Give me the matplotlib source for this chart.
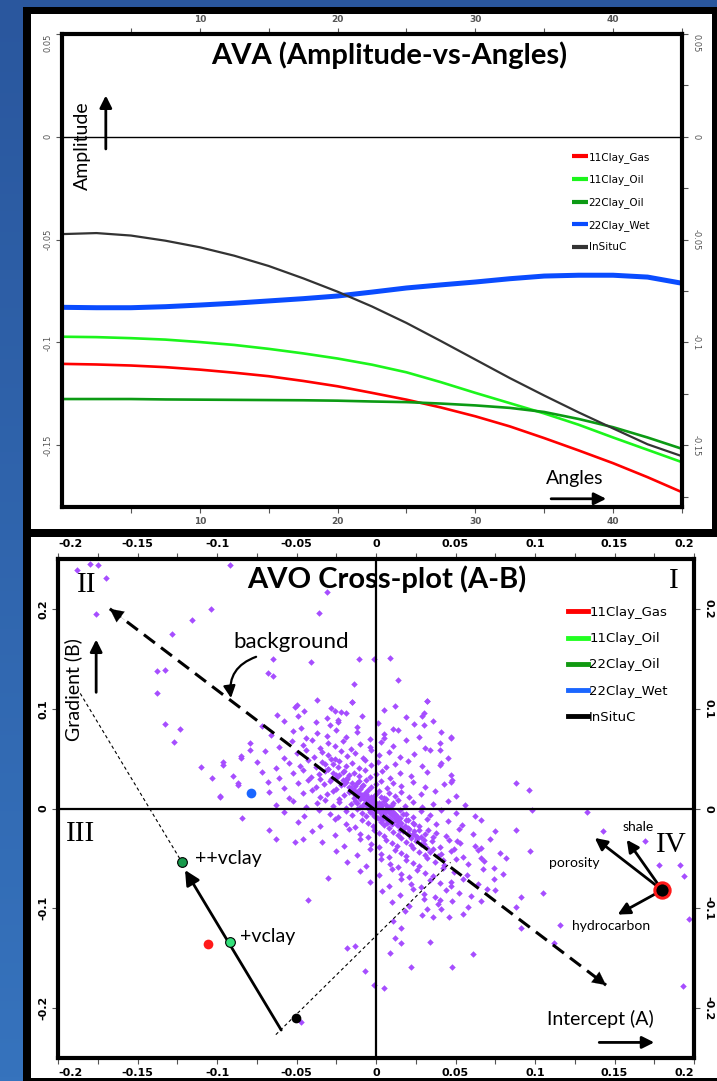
import numpy as np
import matplotlib
matplotlib.use('Agg')
import matplotlib.pyplot as plt
from matplotlib.patches import Rectangle
from matplotlib.lines import Line2D
from matplotlib.ticker import FixedLocator
from matplotlib.colors import LinearSegmentedColormap

W, H = 717, 1081

# ---- AVA curves (amplitude vs incidence angle) ----
angles = [0, 2.5, 5, 7.5, 10, 12.5, 15, 17.5, 20, 22.5, 25, 27.5, 30, 32.5, 35, 37.5, 40, 42.5, 45]
gas_11 = [-0.1104, -0.1107, -0.1112, -0.1120, -0.1132, -0.1147, -0.1164, -0.1187, -0.1213, -0.1245,
          -0.1278, -0.1316, -0.1359, -0.1408, -0.1465, -0.1525, -0.1587, -0.1655, -0.1728]
oil_11 = [-0.0972, -0.0974, -0.0979, -0.0986, -0.0998, -0.1012, -0.1031, -0.1053, -0.1078, -0.1108,
          -0.1145, -0.1193, -0.1245, -0.1295, -0.1345, -0.1400, -0.1462, -0.1522, -0.1582]
oil_22 = [-0.1275, -0.1275, -0.1275, -0.1277, -0.1278, -0.1279, -0.1280, -0.1281, -0.1283, -0.1287,
          -0.1290, -0.1297, -0.1306, -0.1318, -0.1338, -0.1372, -0.1412, -0.1462, -0.1517]
wet_22 = [-0.0829, -0.0831, -0.0831, -0.0826, -0.0818, -0.0809, -0.0798, -0.0787, -0.0774, -0.0755,
          -0.0735, -0.0720, -0.0706, -0.0690, -0.0677, -0.0673, -0.0673, -0.0682, -0.0712]
insitu = [-0.0473, -0.0468, -0.0480, -0.0505, -0.0537, -0.0578, -0.0628, -0.0688, -0.0753, -0.0825,
          -0.0905, -0.0993, -0.1083, -0.1173, -0.1258, -0.1340, -0.1418, -0.1495, -0.1553]

series_names = ['11Clay_Gas', '11Clay_Oil', '22Clay_Oil', '22Clay_Wet', 'InSituC']
series_colors = ['#ff0000', '#1cf51c', '#0c9a14', '#0a4cff', '#333333']
series_widths = [1.9, 1.9, 1.9, 3.6, 1.6]

ava_xticks = [10, 20, 30, 40]
ava_yticks = [0.05, 0, -0.05, -0.1, -0.15]
ava_ylabels = ['0.05', '0', '-0.05', '-0.1', '-0.15']

# ---- AVO cross-plot: intercept A vs gradient B ----
# sparse points away from the main cloud
outlier_a = [-0.188, -0.180, -0.175, -0.170, -0.092, -0.031, -0.104, -0.116, -0.176, -0.036,
             -0.128, -0.065, -0.138, -0.133, -0.138, -0.068, -0.065, -0.041, -0.011, -0.001,
             0.009, 0.014, -0.014, -0.015, 0.032, 0.029, -0.133, -0.123, -0.127, -0.079,
             -0.085, -0.096, -0.110, -0.103, -0.087, -0.098, -0.084, -0.067, -0.063, -0.046,
             -0.051, -0.043, -0.030, -0.018, -0.013, -0.007, -0.001, 0.005, 0.009, 0.012,
             0.016, 0.022, 0.034, 0.048, 0.061, 0.088, 0.096, 0.098, 0.133, 0.143,
             0.169, 0.178, 0.191, 0.194, 0.197, 0.193, 0.116, 0.112, 0.091, 0.088,
             0.097, 0.105, 0.091, 0.088, 0.074, 0.082, 0.066, 0.066, 0.074, 0.075,
             0.051, 0.049, 0.047, 0.040, 0.046, 0.036, 0.032, 0.016, 0.011, 0.047,
             0.040, 0.040, 0.047, 0.030, 0.005, -0.019, -0.026, -0.024, -0.051, -0.049,
             0.066, -0.047]
outlier_b = [0.239, 0.245, 0.244, 0.231, 0.244, 0.217, 0.200, 0.189, 0.195, 0.196,
             0.175, 0.150, 0.138, 0.139, 0.116, 0.136, 0.133, 0.147, 0.150, 0.150,
             0.151, 0.129, 0.125, 0.107, 0.108, 0.093, 0.085, 0.080, 0.067, 0.059,
             0.051, 0.047, 0.042, 0.031, 0.026, 0.012, -0.010, -0.022, -0.031, -0.031,
             -0.034, -0.092, -0.070, -0.140, -0.138, -0.163, -0.177, -0.180, -0.145, -0.130,
             -0.135, -0.159, -0.134, -0.159, -0.146, 0.026, 0.019, -0.002, -0.004, -0.023,
             -0.033, -0.057, -0.057, -0.068, -0.111, -0.178, -0.117, -0.135, -0.120, -0.022,
             -0.043, -0.085, -0.089, -0.099, -0.060, -0.050, -0.040, -0.050, -0.071, -0.082,
             -0.033, -0.041, -0.074, -0.092, -0.109, -0.109, -0.101, -0.120, -0.113, 0.072,
             0.059, 0.044, 0.027, 0.084, 0.071, 0.096, 0.098, 0.087, 0.102, 0.093,
             -0.093, -0.214]

# dense cloud around the origin, listed band by band (top to bottom)
cloud = [
    (-0.050, 0.104), (-0.037, 0.109), (-0.028, 0.101), (-0.015, 0.107), (0.012, 0.103), (0.032, 0.108),
    (-0.062, 0.094), (-0.045, 0.098), (-0.031, 0.091), (-0.022, 0.097), (-0.009, 0.093), (0.005, 0.099),
    (0.019, 0.092), (0.030, 0.096),
    (-0.072, 0.083), (-0.058, 0.088), (-0.047, 0.081), (-0.038, 0.087), (-0.029, 0.084), (-0.024, 0.089),
    (-0.012, 0.082), (0.001, 0.086), (0.011, 0.080), (0.024, 0.085), (0.036, 0.088),
    (-0.066, 0.074), (-0.052, 0.078), (-0.044, 0.071), (-0.037, 0.076), (-0.031, 0.073), (-0.025, 0.079),
    (-0.019, 0.072), (-0.012, 0.077), (-0.004, 0.070), (0.005, 0.075), (0.014, 0.079), (0.027, 0.072),
    (0.041, 0.077), (0.047, 0.071),
    (-0.079, 0.066), (-0.061, 0.062), (-0.053, 0.068), (-0.046, 0.064), (-0.040, 0.069), (-0.035, 0.061),
    (-0.030, 0.066), (-0.026, 0.063), (-0.021, 0.068), (-0.016, 0.060), (-0.010, 0.065), (-0.004, 0.062),
    (0.003, 0.067), (0.011, 0.063), (0.019, 0.069), (0.031, 0.061), (0.040, 0.066),
    (-0.085, 0.053), (-0.070, 0.058), (-0.058, 0.051), (-0.050, 0.056), (-0.044, 0.059), (-0.039, 0.052),
    (-0.034, 0.057), (-0.030, 0.054), (-0.026, 0.050), (-0.022, 0.058), (-0.018, 0.053), (-0.013, 0.056),
    (-0.008, 0.051), (-0.003, 0.059), (0.002, 0.054), (0.008, 0.057), (0.015, 0.052), (0.024, 0.055),
    (0.034, 0.059), (0.045, 0.051),
    (-0.096, 0.044), (-0.075, 0.047), (-0.063, 0.041), (-0.055, 0.046), (-0.048, 0.043), (-0.043, 0.049),
    (-0.038, 0.042), (-0.034, 0.047), (-0.030, 0.040), (-0.027, 0.045), (-0.023, 0.048), (-0.019, 0.043),
    (-0.015, 0.046), (-0.011, 0.041), (-0.007, 0.049), (-0.003, 0.044), (0.001, 0.047), (0.006, 0.042),
    (0.012, 0.045), (0.020, 0.048), (0.029, 0.043), (0.041, 0.046),
    (-0.090, 0.033), (-0.072, 0.037), (-0.061, 0.031), (-0.052, 0.036), (-0.046, 0.039), (-0.041, 0.032),
    (-0.036, 0.035), (-0.032, 0.038), (-0.028, 0.030), (-0.025, 0.034), (-0.021, 0.037), (-0.018, 0.031),
    (-0.014, 0.036), (-0.011, 0.033), (-0.007, 0.039), (-0.004, 0.032), (0.000, 0.035), (0.004, 0.038),
    (0.009, 0.031), (0.015, 0.036), (0.022, 0.033), (0.032, 0.037), (0.047, 0.034),
    (-0.087, 0.024), (-0.068, 0.027), (-0.058, 0.021), (-0.049, 0.026), (-0.043, 0.029), (-0.038, 0.022),
    (-0.033, 0.025), (-0.029, 0.028), (-0.025, 0.020), (-0.022, 0.024), (-0.019, 0.027), (-0.016, 0.021),
    (-0.012, 0.026), (-0.009, 0.023), (-0.006, 0.029), (-0.003, 0.022), (0.000, 0.025), (0.003, 0.028),
    (0.007, 0.021), (0.011, 0.026), (0.016, 0.023), (0.023, 0.027), (0.031, 0.022), (0.043, 0.025),
    (0.048, 0.029),
    (-0.098, 0.013), (-0.067, 0.017), (-0.055, 0.011), (-0.046, 0.016), (-0.040, 0.019), (-0.035, 0.012),
    (-0.031, 0.015), (-0.027, 0.018), (-0.023, 0.010), (-0.020, 0.014), (-0.017, 0.017), (-0.014, 0.011),
    (-0.011, 0.016), (-0.008, 0.013), (-0.005, 0.019), (-0.003, 0.012), (0.000, 0.015), (0.002, 0.018),
    (0.005, 0.011), (0.008, 0.016), (0.012, 0.013), (0.016, 0.017), (0.021, 0.012), (0.028, 0.015),
    (0.037, 0.018), (0.050, 0.013),
    (-0.063, 0.004), (-0.052, 0.008), (-0.044, 0.002), (-0.037, 0.006), (-0.032, 0.009), (-0.027, 0.003),
    (-0.023, 0.007), (-0.019, 0.001), (-0.016, 0.005), (-0.013, 0.008), (-0.010, 0.002), (-0.007, 0.006),
    (-0.005, 0.009), (-0.003, 0.003), (-0.001, 0.007), (0.001, 0.001), (0.003, 0.005), (0.005, 0.008),
    (0.008, 0.002), (0.011, 0.006), (0.014, 0.009), (0.018, 0.003), (0.023, 0.007), (0.029, 0.002),
    (0.036, 0.005), (0.045, 0.008), (0.056, 0.004),
    (-0.058, -0.004), (-0.045, -0.008), (-0.036, -0.002), (-0.029, -0.006), (-0.024, -0.009), (-0.019, -0.003),
    (-0.015, -0.007), (-0.012, -0.001), (-0.009, -0.005), (-0.006, -0.008), (-0.004, -0.002), (-0.002, -0.006),
    (0.000, -0.009), (0.002, -0.003), (0.004, -0.007), (0.006, -0.001), (0.009, -0.005), (0.012, -0.008),
    (0.015, -0.002), (0.019, -0.006), (0.023, -0.009), (0.028, -0.003), (0.034, -0.007), (0.041, -0.002),
    (0.050, -0.005), (0.062, -0.008),
    (-0.049, -0.014), (-0.035, -0.018), (-0.026, -0.011), (-0.019, -0.016), (-0.013, -0.019), (-0.009, -0.012),
    (-0.005, -0.015), (-0.002, -0.018), (0.001, -0.010), (0.003, -0.014), (0.005, -0.017), (0.008, -0.011),
    (0.010, -0.016), (0.013, -0.013), (0.016, -0.019), (0.019, -0.012), (0.023, -0.015), (0.027, -0.018),
    (0.032, -0.011), (0.038, -0.016), (0.045, -0.013), (0.054, -0.017), (0.066, -0.012),
    (-0.040, -0.023), (-0.026, -0.027), (-0.017, -0.021), (-0.010, -0.026), (-0.005, -0.029), (-0.001, -0.022),
    (0.002, -0.025), (0.005, -0.028), (0.008, -0.020), (0.011, -0.024), (0.014, -0.027), (0.017, -0.021),
    (0.020, -0.026), (0.024, -0.023), (0.028, -0.029), (0.033, -0.022), (0.038, -0.025), (0.044, -0.028),
    (0.052, -0.021), (0.061, -0.026), (0.075, -0.023),
    (-0.034, -0.034), (-0.020, -0.038), (-0.010, -0.031), (-0.003, -0.036), (0.002, -0.039), (0.006, -0.032),
    (0.010, -0.035), (0.013, -0.038), (0.016, -0.030), (0.019, -0.034), (0.022, -0.037), (0.026, -0.031),
    (0.030, -0.036), (0.035, -0.033), (0.040, -0.039), (0.046, -0.032), (0.053, -0.035), (0.062, -0.038),
    (0.072, -0.031),
    (-0.025, -0.043), (-0.012, -0.047), (-0.004, -0.041), (0.003, -0.046), (0.008, -0.049), (0.012, -0.042),
    (0.016, -0.045), (0.019, -0.048), (0.023, -0.040), (0.027, -0.044), (0.031, -0.047), (0.036, -0.041),
    (0.041, -0.046), (0.047, -0.043), (0.055, -0.049), (0.064, -0.042), (0.078, -0.045),
    (-0.018, -0.054), (-0.006, -0.058), (0.003, -0.051), (0.009, -0.056), (0.014, -0.059), (0.019, -0.052),
    (0.023, -0.055), (0.027, -0.058), (0.032, -0.050), (0.037, -0.054), (0.043, -0.057), (0.050, -0.051),
    (0.058, -0.056), (0.068, -0.053),
    (-0.010, -0.063), (0.002, -0.067), (0.010, -0.061), (0.016, -0.066), (0.021, -0.069), (0.026, -0.062),
    (0.031, -0.065), (0.036, -0.068), (0.042, -0.060), (0.049, -0.064), (0.057, -0.067), (0.067, -0.061),
    (0.080, -0.066),
    (-0.004, -0.074), (0.008, -0.078), (0.016, -0.071), (0.022, -0.076), (0.028, -0.079), (0.034, -0.072),
    (0.040, -0.075), (0.047, -0.078), (0.055, -0.071), (0.064, -0.076),
    (0.004, -0.083), (0.015, -0.087), (0.023, -0.081), (0.030, -0.086), (0.037, -0.089), (0.044, -0.082),
    (0.052, -0.085), (0.060, -0.088), (0.070, -0.081),
    (0.010, -0.094), (0.021, -0.098), (0.030, -0.091), (0.039, -0.096), (0.048, -0.093), (0.058, -0.099),
    (0.018, -0.103), (0.029, -0.107), (0.041, -0.101), (0.055, -0.106),
    (-0.006, 0.004), (0.004, -0.004), (-0.002, 0.010), (0.007, -0.012), (-0.011, 0.013), (0.012, -0.006),
    (0.000, 0.000), (-0.004, -0.002), (0.003, 0.003), (0.020, -0.020), (0.025, -0.028), (0.015, -0.022),
]
# tight core along the trend through the origin
core = [
    (-0.030, 0.040), (-0.027, 0.036), (-0.025, 0.031), (-0.023, 0.034), (-0.021, 0.029), (-0.020, 0.025),
    (-0.018, 0.030), (-0.017, 0.022), (-0.015, 0.026), (-0.014, 0.019), (-0.013, 0.023), (-0.012, 0.017),
    (-0.010, 0.020), (-0.009, 0.014), (-0.008, 0.011), (-0.007, 0.016), (-0.006, 0.009), (-0.005, 0.012),
    (-0.004, 0.006), (-0.003, 0.008), (-0.002, 0.002), (-0.001, 0.004), (0.000, -0.003), (0.001, 0.002),
    (0.002, -0.001), (0.003, -0.005), (0.004, 0.000), (0.005, -0.006), (0.006, -0.003), (0.007, -0.009),
    (0.008, -0.004), (0.009, -0.011), (0.010, -0.007), (0.011, -0.014), (0.012, -0.010), (0.013, -0.017),
    (0.014, -0.012), (0.015, -0.019), (0.016, -0.015), (0.017, -0.023), (0.018, -0.018), (0.020, -0.025),
    (0.021, -0.021), (0.022, -0.030), (0.023, -0.026), (0.025, -0.033), (0.026, -0.029), (0.028, -0.036),
    (0.030, -0.032), (0.032, -0.040),
    (-0.004, -0.004), (0.002, 0.006), (-0.008, 0.004), (0.006, 0.004), (-0.001, -0.008), (0.004, -0.012),
    (-0.010, 0.010), (0.009, -0.001), (-0.006, 0.015), (0.011, -0.004), (-0.002, 0.012), (0.003, -0.010),
    (-0.012, 0.006), (0.013, -0.008), (0.000, 0.006), (-0.005, 0.001), (0.007, -0.015), (-0.013, 0.014),
    (0.015, -0.010), (-0.016, 0.018),
    (-0.035, 0.030), (-0.032, 0.045), (-0.028, 0.050), (-0.024, 0.042), (-0.020, 0.038), (-0.017, 0.034),
    (-0.011, 0.028), (-0.008, 0.024), (0.003, 0.012), (0.006, 0.010), (0.010, 0.004), (0.017, -0.006),
    (0.020, -0.012), (0.024, -0.016), (0.027, -0.022), (0.031, -0.026), (0.034, -0.044), (0.036, -0.029),
    (0.039, -0.048), (0.042, -0.052),
]
cloud_a = [p[0] for p in cloud + core]
cloud_b = [p[1] for p in cloud + core]

# single-sample positions for each fluid case
fluid_a = [-0.1056, -0.0920, -0.1220, -0.0788, -0.0506]
fluid_b = [-0.1360, -0.1340, -0.0540, 0.0152, -0.2100]
fluid_colors = ['#ff1a1a', '#33e07a', '#17994a', '#1a66ff', '#000000']
fluid_edges = ['none', '#000000', '#000000', 'none', 'none']

# hydrocarbon reference point and its trend directions
hc_a, hc_b = 0.180, -0.0818
trend_names = ['porosity', 'shale', 'hydrocarbon']
trend_tip_a = [0.1376, 0.1577, 0.1520]
trend_tip_b = [-0.0295, -0.0313, -0.1063]

avo_xticks = [-0.2, -0.15, -0.1, -0.05, 0, 0.05, 0.1, 0.15, 0.2]
avo_xlabels = ['-0.2', '-0.15', '-0.1', '-0.05', '0', '0.05', '0.1', '0.15', '0.2']
avo_yticks = [0.2, 0.1, 0, -0.1, -0.2]
avo_ylabels = ['0.2', '0.1', '0', '-0.1', '-0.2']

CAL = ['Lato', 'DejaVu Sans']
TAH = ['DejaVu Sans']


def fx(x):
    return x / W


def fy(y):
    return 1 - y / H


def px_rect(x0, y0, x1, y1, color, z):
    fig.add_artist(Rectangle((fx(x0), fy(y1)), (x1 - x0) / W, (y1 - y0) / H,
                             transform=fig.transFigure, facecolor=color,
                             edgecolor='none', zorder=z))


def arrow(ax, tail, tip, lw=2.0, scale=18, **kw):
    ax.annotate('', xy=tip, xytext=tail,
                arrowprops=dict(arrowstyle='-|>', color='black', lw=lw,
                                mutation_scale=scale, shrinkA=0, shrinkB=0, **kw))


fig = plt.figure(figsize=(W / 100, H / 100), dpi=100)

# blue slide background
bg = fig.add_axes([0, 0, 1, 1], zorder=-10)
grad = np.linspace(0, 1, 256).reshape(-1, 1)
bg.imshow(grad, aspect='auto', extent=[0, 1, 0, 1], origin='upper',
          cmap=LinearSegmentedColormap.from_list('slide', ['#2a579e', '#3673bd']))
bg.axis('off')

# black frames with white panels
px_rect(23, 7, 717, 537, 'black', -5)
px_rect(23, 529, 717, 1081, 'black', -5)
px_rect(31, 14, 712, 529, 'white', -4)
px_rect(31, 537, 717, 1078, 'white', -4)

# ================= AVA panel =================
ax1 = fig.add_axes([fx(62), fy(507), 620 / W, 473 / H])
for name, vals, c, lw in zip(series_names, [gas_11, oil_11, oil_22, wet_22, insitu],
                             series_colors, series_widths):
    ax1.plot(angles, vals, color=c, lw=lw, label=name, solid_capstyle='butt')
ax1.axhline(0, color='black', lw=1.0)
ax1.set_xlim(0, 45)
ax1.set_ylim(-0.18, 0.05)
ax1.xaxis.set_major_locator(FixedLocator(ava_xticks))
ax1.xaxis.set_minor_locator(FixedLocator([5, 15, 25, 35, 45]))
ax1.set_yticks(ava_yticks)
ax1.set_yticklabels(ava_ylabels)
ax1.yaxis.set_minor_locator(FixedLocator([0.025, -0.025, -0.075, -0.125, -0.175]))
ax1.tick_params(which='both', direction='out', length=4, width=0.8, color='#555555',
                top=True, right=True, labeltop=True, labelright=True, pad=3)
ax1.tick_params(axis='y', which='minor', left=False, right=True)
for t in ax1.xaxis.get_major_ticks():
    for lbl in (t.label1, t.label2):
        lbl.set_fontsize(6.5)
        lbl.set_color('#555555')
        lbl.set_fontweight('bold')
for i, t in enumerate(ax1.yaxis.get_major_ticks()):
    t.label1.set_rotation(90)
    t.label2.set_rotation(-90)
    for lbl in (t.label1, t.label2):
        lbl.set_fontsize(6)
        lbl.set_color('#555555')
        lbl.set_verticalalignment('top' if i == 0 else 'center')
for s in ax1.spines.values():
    s.set_linewidth(3)

fig.text(fx(389), fy(55), 'AVA (Amplitude-vs-Angles)', ha='center', va='center',
         fontsize=21, fontweight='bold', family=CAL)
ax1.text(1.5, -0.0042, 'Amplitude', rotation=90, ha='center', va='center',
         fontsize=14, family=CAL)
arrow(ax1, (3.18, -0.0059), (3.18, 0.0201))
ax1.text(37.2, -0.1663, 'Angles', ha='center', va='center', fontsize=14, family=CAL)
arrow(ax1, (35.5, -0.176), (39.5, -0.176))

leg1 = ax1.legend(loc='upper left', bbox_to_anchor=(fx(572), fy(152)),
                  bbox_transform=fig.transFigure, frameon=False,
                  prop={'family': TAH, 'size': 7.5}, handlelength=1.5,
                  handletextpad=0.1, labelspacing=1.12, borderpad=0, borderaxespad=0)
for ln in leg1.get_lines():
    ln.set_linewidth(3)

# ================= AVO cross-plot panel =================
ax2 = fig.add_axes([fx(58), fy(1058), 636 / W, 499 / H])
ax2.scatter(outlier_a + cloud_a, outlier_b + cloud_b, s=11, marker='D',
            color='#a64dff', linewidths=0, zorder=2)
ax2.axhline(0, color='black', lw=1.6, zorder=3)
ax2.axvline(0, color='black', lw=1.6, zorder=3)
ax2.set_xlim(-0.2, 0.2)
ax2.set_ylim(-0.25, 0.25)
ax2.set_xticks(avo_xticks)
ax2.set_xticklabels(avo_xlabels)
ax2.xaxis.set_minor_locator(FixedLocator([-0.175, -0.125, -0.075, -0.025, 0.025, 0.075, 0.125, 0.175]))
ax2.set_yticks(avo_yticks)
ax2.set_yticklabels(avo_ylabels)
ax2.tick_params(which='both', direction='out', length=4, width=0.8, color='#555555',
                top=True, right=True, labeltop=True, labelright=True, pad=3)
for i, t in enumerate(ax2.xaxis.get_major_ticks()):
    for lbl in (t.label1, t.label2):
        lbl.set_fontsize(8)
        lbl.set_fontweight('bold')
        if i == 0:
            lbl.set_horizontalalignment('left')
        elif i == len(avo_xticks) - 1:
            lbl.set_horizontalalignment('right')
for t in ax2.yaxis.get_major_ticks():
    t.label1.set_rotation(90)
    t.label2.set_rotation(-90)
    for lbl in (t.label1, t.label2):
        lbl.set_fontsize(8)
        lbl.set_fontweight('bold')
        lbl.set_verticalalignment('center')
for s in ax2.spines.values():
    s.set_linewidth(3)

fig.text(fx(387), fy(579), 'AVO Cross-plot (A-B)', ha='center', va='center',
         fontsize=21, fontweight='bold', family=CAL)

# quadrant numerals
for txt, a, b in [('I', 0.1874, 0.228), ('II', -0.1818, 0.224),
                  ('III', -0.1855, -0.0253), ('IV', 0.186, -0.037)]:
    ax2.text(a, b, txt, ha='center', va='center', fontsize=21, family='Liberation Serif')

# background trend (dashed, arrow at both ends)
bgl_a = [-0.1674, 0.1447]
bgl_b = [0.2001, -0.1770]
ax2.plot(bgl_a, bgl_b, color='black', lw=2.2, ls=(0, (4.5, 2.5)), zorder=4)
da, db = bgl_a[1] - bgl_a[0], bgl_b[1] - bgl_b[0]
arrow(ax2, (bgl_a[0] + 0.03 * da, bgl_b[0] + 0.03 * db), (bgl_a[0], bgl_b[0]), lw=0.1, scale=24)
arrow(ax2, (bgl_a[1] - 0.03 * da, bgl_b[1] - 0.03 * db), (bgl_a[1], bgl_b[1]), lw=0.1, scale=24)
ax2.text(-0.0535, 0.1667, 'background', ha='center', va='center', fontsize=16, family=CAL)
arrow(ax2, (-0.0754, 0.152), (-0.0912, 0.1107), lw=1.6, scale=18,
      connectionstyle='arc3,rad=0.4')

# clay trend construction lines
ax2.plot([-0.186, -0.122], [0.1153, -0.054], color='black', lw=0.8, ls=(0, (3, 2.5)), zorder=4)
ax2.plot([-0.063, 0.0469], [-0.2266, -0.054], color='black', lw=0.8, ls=(0, (3, 2.5)), zorder=4)
arrow(ax2, (-0.0596, -0.222), (-0.1201, -0.0617), lw=2.0, scale=22)

for a, b, c, e in zip(fluid_a, fluid_b, fluid_colors, fluid_edges):
    ax2.plot(a, b, 'o', ms=7, color=c, mec=e, mew=0.8, zorder=6)
ax2.text(-0.1138, -0.050, '++vclay', ha='left', va='center', fontsize=14, family=CAL)
ax2.text(-0.0855, -0.128, '+vclay', ha='left', va='center', fontsize=14, family=CAL)

# hydrocarbon point with porosity / shale / hydrocarbon directions
for ta, tb in zip(trend_tip_a, trend_tip_b):
    arrow(ax2, (hc_a, hc_b), (ta, tb), lw=2.0, scale=18)
ax2.plot(hc_a, hc_b, 'o', ms=11, color='black', mec='#ff1a1a', mew=2.2, zorder=7)
for txt, a, b in zip(trend_names, [0.1245, 0.1648, 0.1478], [-0.0549, -0.0188, -0.1178]):
    ax2.text(a, b, txt, ha='center', va='center', fontsize=10, family=CAL)

ax2.text(-0.1904, 0.1187, 'Gradient (B)', rotation=90, ha='center', va='center',
         fontsize=14, family=CAL)
arrow(ax2, (-0.176, 0.1164), (-0.176, 0.1693))
ax2.text(0.141, -0.211, 'Intercept (A)', ha='center', va='center', fontsize=14, family=CAL)
arrow(ax2, (0.1404, -0.2344), (0.175, -0.2344))

legend_handles = [Line2D([], [], color=c, lw=3.5) for c in
                  ['#ff0000', '#22ff22', '#119911', '#1a66ff', '#000000']]
ax2.legend(legend_handles, series_names, loc='upper left', bbox_to_anchor=(fx(568), fy(606)),
           bbox_transform=fig.transFigure, frameon=False,
           prop={'family': TAH, 'size': 9.5}, handlelength=1.5,
           handletextpad=0.1, labelspacing=1.0, borderpad=0, borderaxespad=0)

fig.savefig('out.png', dpi=100, facecolor=fig.get_facecolor())
